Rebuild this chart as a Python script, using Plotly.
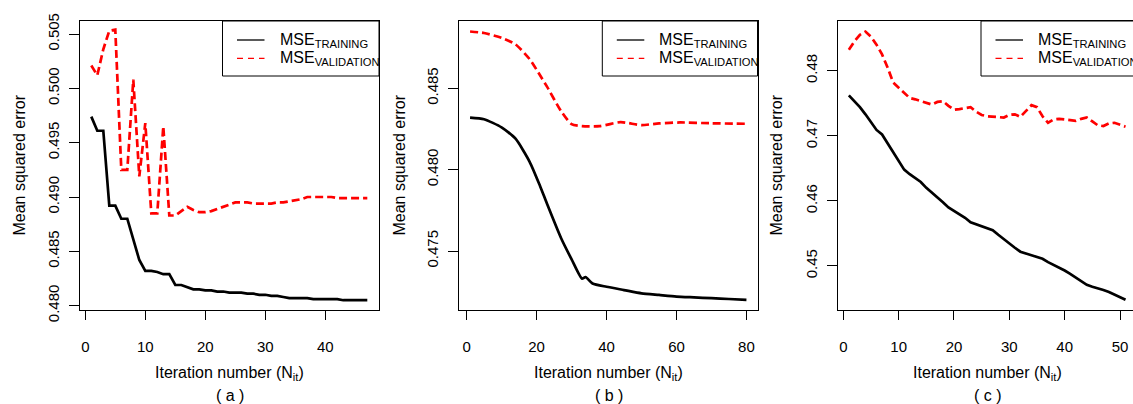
import plotly.graph_objects as go

# ---------------- data ----------------
# Panel (a)
iter_a = list(range(1, 48))
train_a = [0.4974, 0.4961, 0.4961, 0.4892, 0.4892, 0.4880, 0.4880, 0.4861, 0.4842, 0.4832,
           0.4832, 0.4831, 0.4829, 0.4829, 0.4819, 0.4819, 0.4817, 0.4815, 0.4815, 0.4814,
           0.4814, 0.4813, 0.4813, 0.4812, 0.4812, 0.4812, 0.4811, 0.4811, 0.4810, 0.4810,
           0.4809, 0.4809, 0.4808, 0.4807, 0.4807, 0.4807, 0.4807, 0.4806, 0.4806, 0.4806,
           0.4806, 0.4806, 0.4805, 0.4805, 0.4805, 0.4805, 0.4805]
valid_a = [0.5021, 0.5012, 0.5036, 0.5053, 0.5054, 0.4925, 0.4925, 0.5008, 0.4919, 0.4968,
           0.4885, 0.4885, 0.4965, 0.4883, 0.4883, 0.4887, 0.4891, 0.4888, 0.4886, 0.4886,
           0.4887, 0.4889, 0.4891, 0.4893, 0.4895, 0.4895, 0.4895, 0.4894, 0.4894, 0.4894,
           0.4894, 0.4895, 0.4895, 0.4896, 0.4897, 0.4898, 0.4900, 0.4900, 0.4900, 0.4900,
           0.4900, 0.4899, 0.4899, 0.4899, 0.4899, 0.4899, 0.4899]

# Panel (b)
iter_b_train = [1, 5, 10, 14, 18, 21, 23, 27, 30, 33, 34, 36, 40, 45, 50, 55, 60, 65, 70, 75, 80]
train_b = [0.4832, 0.4831, 0.4826, 0.4819, 0.4805, 0.4790, 0.4779, 0.4758, 0.4745, 0.4733,
           0.4734, 0.4730, 0.4728, 0.4726, 0.4724, 0.4723, 0.4722, 0.47215, 0.4721, 0.47205,
           0.4720]
iter_b_valid = [1, 5, 10, 14, 18, 21, 23, 27, 30, 33, 38, 44, 50, 55, 61, 70, 80]
valid_b = [0.48849, 0.4884, 0.4881, 0.4877, 0.4868, 0.4858, 0.4851, 0.4836, 0.4828, 0.48268,
           0.48267, 0.48292, 0.48274, 0.48284, 0.4829, 0.48285, 0.48282]

# Panel (c)
iter_c = list(range(1, 52))
train_c = [0.4762, 0.4753, 0.4744, 0.4733, 0.4720, 0.4709, 0.4702, 0.4688, 0.4674, 0.4661,
           0.4648, 0.4641, 0.4635, 0.4629, 0.4620, 0.4613, 0.4606, 0.4598, 0.4590, 0.4585,
           0.4580, 0.4574, 0.4567, 0.4564, 0.4562, 0.4559, 0.4555, 0.4548, 0.4541, 0.4534,
           0.4528, 0.4522, 0.4519, 0.4517, 0.4514, 0.4511, 0.4506, 0.4502, 0.4497, 0.4493,
           0.4488, 0.4482, 0.4476, 0.4471, 0.4468, 0.4466, 0.4463, 0.4460, 0.4456, 0.4452,
           0.4448]
valid_c = [0.4832, 0.4845, 0.4855, 0.4860, 0.4852, 0.4840, 0.4825, 0.4805, 0.4782, 0.4774,
           0.4765, 0.4758, 0.4756, 0.4753, 0.4750, 0.4748, 0.4752, 0.4753, 0.4746, 0.4740,
           0.4741, 0.4743, 0.4744, 0.4737, 0.4732, 0.4730, 0.4729, 0.4728, 0.4728, 0.4732,
           0.4733, 0.4729, 0.4738, 0.4747, 0.4744, 0.4730, 0.4720, 0.4725, 0.4726, 0.4725,
           0.4724, 0.4723, 0.4726, 0.4728, 0.4722, 0.4716, 0.4715, 0.4719, 0.4720, 0.4717,
           0.4714]

x_ticks_a = [0, 10, 20, 30, 40]
x_ticks_b = [0, 20, 40, 60, 80]
x_ticks_c = [0, 10, 20, 30, 40, 50]
y_ticks_a = [0.480, 0.485, 0.490, 0.495, 0.500, 0.505]
y_ticks_b = [0.475, 0.480, 0.485]
y_ticks_c = [0.45, 0.46, 0.47, 0.48]
panel_labels = ["( a )", "( b )", "( c )"]
legend_names = ["MSE<sub>TRAINING</sub>", "MSE<sub>VALIDATION</sub>"]

# ---------------- layout constants ----------------
W, H = 1133, 404
FONT = "Liberation Sans, Arial, Helvetica, sans-serif"
RED = "#FF0000"

def px(x):
    return x / W

def py(y):
    return 1 - y / H

panels = [
    dict(xd=[80, 379], xr=[-0.883, 48.95], yr=[0.47960, 0.50620], xt=x_ticks_a, yt=y_ticks_a, yfmt=".3f",
         data=(iter_a, train_a, iter_a, valid_a), shape="linear", ytitle_x=19, leg_left=222.5, leg_right=379),
    dict(xd=[459, 757.5], xr=[-2.16, 83.16], yr=[0.471374, 0.489136], xt=x_ticks_b, yt=y_ticks_b, yfmt=".3f",
         data=(iter_b_train, train_b, iter_b_valid, valid_b), shape="spline", ytitle_x=399,
         leg_left=602.3, leg_right=757.5),
    dict(xd=[838, 1133], xr=[-0.96, 52.35], yr=[0.44324, 0.48763], xt=x_ticks_c, yt=y_ticks_c, yfmt=".2f",
         data=(iter_c, train_c, iter_c, valid_c), shape="linear", ytitle_x=776,
         leg_left=981, leg_right=1140),
]

fig = go.Figure()
layout = dict(
    width=W, height=H,
    margin=dict(l=0, r=0, t=0, b=0, autoexpand=False),
    paper_bgcolor="white", plot_bgcolor="white",
    font=dict(family=FONT, size=15, color="black"),
    showlegend=False,
)
annotations = []
shapes = []

for i, p in enumerate(panels):
    n = "" if i == 0 else str(i + 1)
    xa, ya = "x" + n, "y" + n
    xt_, yv_, xv_, vv_ = p["data"]
    line_tr = dict(color="black", width=2.7, shape=p["shape"])
    line_va = dict(color=RED, width=2.7, dash="8px,4px", shape=p["shape"])
    if p["shape"] == "spline":
        line_tr["smoothing"] = 0.6
        line_va["smoothing"] = 0.6
    fig.add_trace(go.Scatter(x=xt_, y=yv_, mode="lines", line=line_tr, xaxis=xa, yaxis=ya,
                             name=legend_names[0], hoverinfo="skip"))
    fig.add_trace(go.Scatter(x=xv_, y=vv_, mode="lines", line=line_va, xaxis=xa, yaxis=ya,
                             name=legend_names[1], hoverinfo="skip"))

    is_c = (i == 2)
    layout["xaxis" + n] = dict(
        domain=[px(p["xd"][0]), px(p["xd"][1])], range=p["xr"], anchor=ya, automargin=False,
        tickmode="array", tickvals=p["xt"], ticks="outside", ticklen=9, tickwidth=1, tickcolor="black",
        showline=True, linecolor="black", linewidth=1, mirror=True,
        showgrid=False, zeroline=False, tickfont=dict(size=15), ticklabelstandoff=14,
    )
    layout["yaxis" + n] = dict(
        domain=[py(310), py(21)], range=p["yr"], anchor=xa, automargin=False,
        tickmode="array", tickvals=p["yt"], tickformat=p["yfmt"], tickangle=-90,
        ticks="outside", ticklen=10, tickwidth=1, tickcolor="black",
        showline=True, linecolor="black", linewidth=1, mirror=(not is_c),
        showgrid=False, zeroline=False, tickfont=dict(size=15), ticklabelstandoff=4,
    )

    # legend box (drawn like R's legend())
    L = p["leg_left"]
    shapes.append(dict(type="rect", xref="paper", yref="paper",
                       x0=px(L), x1=px(p["leg_right"]), y0=py(76), y1=py(21),
                       line=dict(color="black", width=1), fillcolor="white", layer="above"))
    shapes.append(dict(type="line", xref="paper", yref="paper",
                       x0=px(L + 14.5), x1=px(L + 42), y0=py(40), y1=py(40),
                       line=dict(color="black", width=1.3), layer="above"))
    shapes.append(dict(type="line", xref="paper", yref="paper",
                       x0=px(L + 14.5), x1=px(L + 42), y0=py(58.3), y1=py(58.3),
                       line=dict(color=RED, width=1.3, dash="6px,5px"), layer="above"))
    for k, yy in enumerate([40, 58.3]):
        annotations.append(dict(text=legend_names[k], x=px(L + 55), y=py(yy + 0.5),
                                xref="paper", yref="paper", showarrow=False, xanchor="left",
                                yanchor="middle", font=dict(size=16)))

    cx = p["xd"][0] + 149.5
    annotations.append(dict(text="Iteration number (N<sub>it</sub>)", x=px(cx), y=py(373),
                            xref="paper", yref="paper", showarrow=False, xanchor="center", yanchor="middle",
                            font=dict(size=16)))
    annotations.append(dict(text=panel_labels[i], x=px(cx), y=py(395),
                            xref="paper", yref="paper", showarrow=False, xanchor="center", yanchor="middle",
                            font=dict(size=16)))
    annotations.append(dict(text="Mean squared error", x=px(p["ytitle_x"]), y=py(165.5), textangle=-90,
                            xref="paper", yref="paper", showarrow=False, xanchor="center", yanchor="middle",
                            font=dict(size=16)))

layout["annotations"] = annotations
layout["shapes"] = shapes
fig.update_layout(**layout)
fig.write_html("out.html",
               post_script="document.body.style.margin='0';document.body.style.overflow='hidden';")
